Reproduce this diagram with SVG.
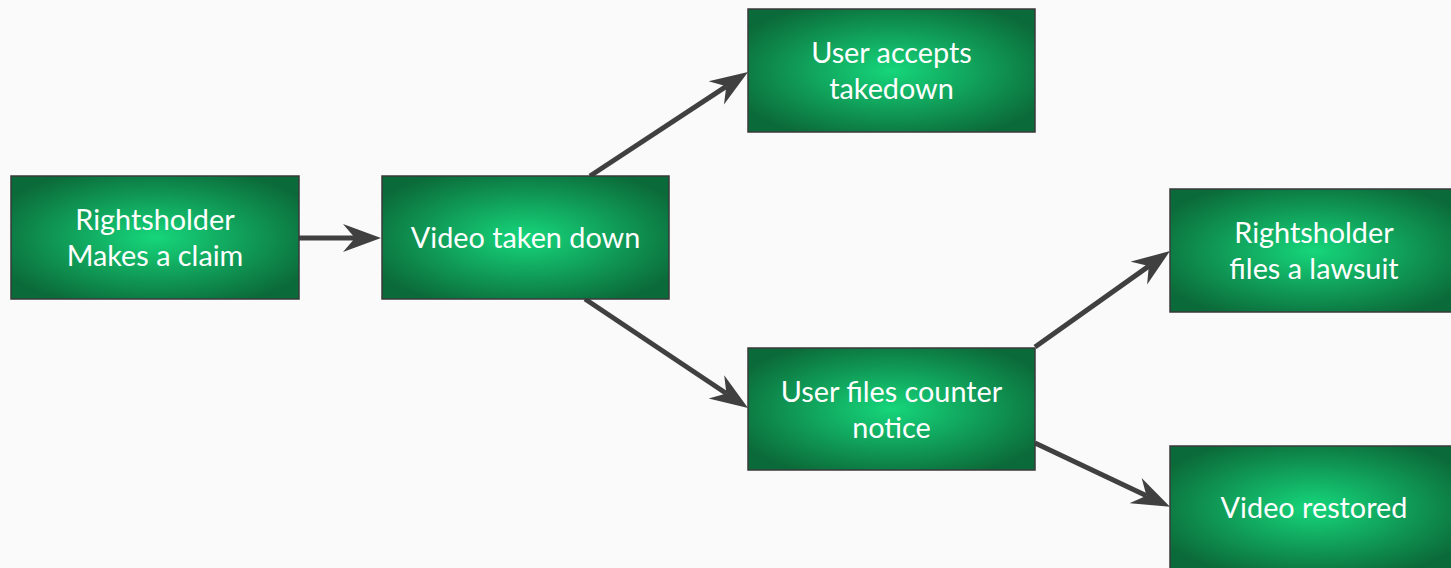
<svg xmlns="http://www.w3.org/2000/svg" width="1451" height="568" viewBox="0 0 1451 568">
<style>
.box{fill:url(#g);stroke:#3a3a3a;stroke-width:1.5}
.t{font-family:Lato,"Liberation Sans",sans-serif;font-size:28.8px;fill:#ffffff;text-anchor:middle}
.c{stroke:#404040;stroke-width:5;fill:none;marker-end:url(#ah)}
</style>
<defs>
<radialGradient id="g" cx="0.5" cy="0.5" r="0.6">
<stop offset="0" stop-color="#16d67b"/>
<stop offset="1" stop-color="#0b6a39"/>
</radialGradient>
<marker id="ah" markerUnits="userSpaceOnUse" viewBox="0 0 40 30" markerWidth="40" markerHeight="30" refX="12" refY="15" orient="auto">
<path d="M0,1 L38,15 L0,29 L12,15 Z" fill="#404040"/>
</marker>
</defs>
<rect width="1451" height="568" fill="#fafafa"/>
<g id="connectors">
<line class="c" x1="299" y1="238" x2="355" y2="238"/>
<line class="c" x1="590" y1="176" x2="726.3" y2="86.3"/>
<line class="c" x1="585" y1="299" x2="726.4" y2="393.5"/>
<line class="c" x1="1035" y1="347" x2="1148.8" y2="266.1"/>
<line class="c" x1="1035" y1="443" x2="1146.5" y2="495.7"/>
</g>
<g id="n1"><rect class="box" x="11" y="176" width="288" height="123"/><text class="t" x="155" y="230">Rightsholder</text><text class="t" x="155" y="266">Makes a claim</text></g>
<g id="n2"><rect class="box" x="382" y="176" width="287" height="123"/><text class="t" x="525.5" y="248">Video taken down</text></g>
<g id="n3"><rect class="box" x="748" y="9" width="287" height="123"/><text class="t" x="891.5" y="63">User accepts</text><text class="t" x="891.5" y="99">takedown</text></g>
<g id="n4"><rect class="box" x="748" y="348" width="287" height="122"/><text class="t" x="891.5" y="402">User files counter</text><text class="t" x="891.5" y="438">notice</text></g>
<g id="n5"><rect class="box" x="1170" y="189" width="288" height="123"/><text class="t" x="1314" y="243">Rightsholder</text><text class="t" x="1314" y="279">files a lawsuit</text></g>
<g id="n6"><rect class="box" x="1170" y="446" width="288" height="123"/><text class="t" x="1314" y="518">Video restored</text></g>
</svg>
